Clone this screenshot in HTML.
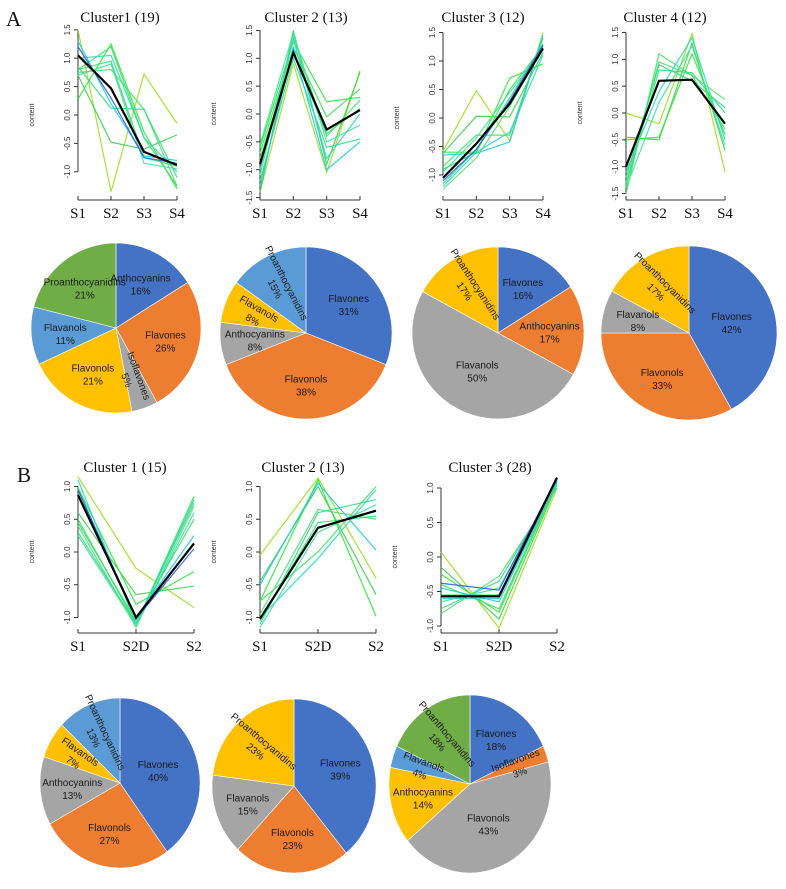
<!DOCTYPE html>
<html><head><meta charset="utf-8"><style>
html,body{margin:0;padding:0;background:#fff;}
svg{display:block;}
.ser{font-family:"Liberation Serif",serif;fill:#111;}
.sans{font-family:"Liberation Sans",sans-serif;}
</style></head><body>
<svg id="fig" width="786" height="889" viewBox="0 0 786 889" xmlns="http://www.w3.org/2000/svg">
<text class="ser" x="6" y="26" font-size="21">A</text>
<text class="ser" x="17" y="482" font-size="21">B</text>
</svg>
<script>
// ---------- line chart data ----------
const catsA = ["S1","S2","S3","S4"];
const catsB = ["S1","S2D","S2"];
const ticksA1 = [-1.0,-0.5,0.0,0.5,1.0,1.5];
const ticksA2 = [-1.5,-1.0,-0.5,0.0,0.5,1.0,1.5];
const ticksB = [-1.0,-0.5,0.0,0.5,1.0];
const tickLabelsA1 = ["-1.0","-0.5","0.0","0.5","1.0","1.5"];
const tickLabelsA2 = ["-1.5","-1.0","-0.5","0.0","0.5","1.0","1.5"];
const tickLabelsB = ["-1.0","-0.5","0.0","0.5","1.0"];

const meanA1 = [1.05,0.47,-0.65,-0.88];
const linesA1 = [[1.5,-1.35,0.72,-0.15],[0.7,-0.48,-0.6,-0.35],[0.28,1.25,-0.3,-1.3],[0.8,1.2,-0.4,-1.25],[0.75,0.8,0.1,-1.25],[0.85,0.12,0.1,-1.1],[0.7,0.9,-0.85,-0.95],[1.0,1.05,-0.4,-1.0],[0.8,0.95,-0.75,-0.9],[1.3,0.2,-0.72,-0.8],[1.2,0.3,-0.75,-0.85]];
const meanA2 = [-0.9,1.1,-0.28,0.07];
const linesA2 = [[-1.4,0.9,-1.05,0.78],[-1.4,1.5,-0.9,0.75],[-0.6,1.3,0.22,0.3],[-0.7,1.2,-0.05,0.45],[-1.1,1.4,-0.4,0.25],[-1.2,1.0,-0.6,-0.45],[-0.55,1.45,-0.5,-0.2],[-1.0,1.35,-0.8,0.0],[-0.8,1.1,-0.35,0.1],[-1.3,1.2,-1.0,-0.5]];
const meanA3 = [-1.05,-0.45,0.25,1.22];
const linesA3 = [[-0.58,0.48,-0.4,1.5],[-0.62,0.03,0.02,1.15],[-0.6,-0.6,0.7,0.95],[-0.85,-0.3,-0.3,1.4],[-1.25,-0.7,0.2,1.25],[-1.15,-0.55,0.35,1.3],[-0.95,-0.35,0.45,1.2],[-1.2,-0.6,-0.25,1.1],[-0.9,-0.6,0.5,1.25],[-0.65,-0.62,-0.42,1.45],[-1.1,-0.55,0.3,1.28]];
const meanA4 = [-1.0,0.6,0.62,-0.2];
const linesA4 = [[0.0,-0.2,1.48,-1.1],[-0.45,-0.5,1.3,-0.7],[-0.5,-0.45,1.1,-0.4],[-1.5,1.1,0.7,-0.3],[-1.3,0.95,0.7,0.25],[-1.2,0.9,0.6,0.1],[-1.4,0.2,1.25,-0.6],[-1.1,0.4,1.4,-0.5],[-1.35,0.8,0.75,0.0]];
const meanB1 = [0.87,-1.0,0.13];
const linesB1 = [[1.15,-0.25,-0.85],[0.6,-0.65,-0.52],[0.98,-0.8,-0.3],[0.5,-1.1,0.85],[0.4,-1.15,0.7],[0.3,-1.1,0.8],[0.25,-1.12,0.6],[1.1,-1.1,0.75],[0.45,-1.05,0.5],[0.95,-1.0,0.25],[0.95,-1.02,0.05]];
const meanB2 = [-1.02,0.37,0.63];
const linesB2 = [[-0.05,1.13,-0.4],[-0.45,1.0,-0.65],[-0.75,1.1,-0.98],[-0.75,0.0,1.0],[-0.95,0.65,0.5],[-1.1,0.6,0.8],[-1.15,0.3,0.72],[-1.0,-0.1,0.95],[-1.05,0.45,0.55],[-0.5,1.05,0.03]];
const meanB3 = [-0.57,-0.57,1.15];
const linesB3 = [[0.07,-1.03,1.0],[-0.15,-0.9,1.05],[-0.25,-0.8,1.08],[-0.4,-0.75,1.1],[-0.82,-0.28,1.0],[-0.75,-0.35,1.05],[-0.65,-0.45,1.1],[-0.6,-0.6,1.12],[-0.55,-0.55,1.14],[-0.45,-0.65,1.1],[-0.38,-0.48,1.15]];

// ---------- pie data ----------
const pieA1Labels = ["Anthocyanins","Flavones","Isoflavones","Flavonols","Flavanols","Proanthocyanidins"];
const pieA1Values = [16,26,5,21,11,21];
const pieA2Labels = ["Flavones","Flavonols","Anthocyanins","Flavanols","Proanthocyanidins"];
const pieA2Values = [31,38,8,8,15];
const pieA3Labels = ["Flavones","Anthocyanins","Flavanols","Proanthocyanidins"];
const pieA3Values = [16,17,50,17];
const pieA4Labels = ["Flavones","Flavonols","Flavanols","Proanthocyanidins"];
const pieA4Values = [42,33,8,17];
const pieB1Labels = ["Flavones","Flavonols","Anthocyanins","Flavanols","Proanthocyanidins"];
const pieB1Values = [40,27,13,7,13];
const pieB2Labels = ["Flavones","Flavonols","Flavanols","Proanthocyanidins"];
const pieB2Values = [39,23,15,23];
const pieB3Labels = ["Flavones","Isoflavones","Flavonols","Anthocyanins","Flavanols","Proanthocyanidins"];
const pieB3Values = [18,3,43,14,4,18];

const NS = "http://www.w3.org/2000/svg";
const svg = document.getElementById("fig");
function mk(tag, attrs, parent){
  const e = document.createElementNS(NS, tag);
  for (const k in attrs) e.setAttribute(k, attrs[k]);
  (parent||svg).appendChild(e);
  return e;
}
const lineColors = ["#9be024","#44cc55","#2ee83a","#3fe060","#55dd77","#33d98a","#40e0a0","#2bd8c0","#35e070","#22c8e8","#2a60e0"];

function lineChart(cfg, cats, ticks, tickLabels, lines, mean){
  const g = mk("g", {});
  
  
  const xs = i => cfg.x0 + i*(cfg.x1-cfg.x0)/(cats.length-1);
  const ys = v => cfg.y0 - v*cfg.unit;
  // title
  const t = mk("text", {x:cfg.tx, y:cfg.ty, "text-anchor":"middle", "font-size":15, class:"ser"}, g);
  t.textContent = cfg.title;
  
  
  // y axis
  const ax = cfg.x0 - 0;
  const ya = mk("line", {x1:ax, x2:ax, y1:ys(ticks[ticks.length-1]), y2:ys(ticks[0]), stroke:"#333", "stroke-width":1}, g);
  
  
  ticks.forEach((v,i)=>{
    mk("line", {x1:ax-4, x2:ax, y1:ys(v), y2:ys(v), stroke:"#333"}, g);
    const tl = mk("text", {x:0, y:0, transform:`translate(${ax-8},${ys(v)}) rotate(-90)`, "text-anchor":"middle", "font-size":8, class:"sans", fill:"#333"}, g);
    tl.textContent = tickLabels[i];
    
    
  });
  const yt = mk("text", {x:0, y:0, transform:`translate(${ax-44},${cfg.y0}) rotate(-90)`, "text-anchor":"middle", "font-size":7, class:"sans", fill:"#333"}, g);
  yt.textContent = "content";
  
  
  // x axis
  const xa = mk("line", {x1:xs(0), x2:xs(cats.length-1), y1:cfg.xAxisY, y2:cfg.xAxisY, stroke:"#333"}, g);
  
  
  cats.forEach((c,i)=>{
    mk("line", {x1:xs(i), x2:xs(i), y1:cfg.xAxisY, y2:cfg.xAxisY-4, stroke:"#333"}, g);
    const xl = mk("text", {x:xs(i), y:cfg.xAxisY+18, "text-anchor":"middle", "font-size":15, class:"ser"}, g);
    xl.textContent = c;
    
    
  });
  lines.forEach((s,k)=>{
    const p = mk("polyline", {points:s.map((v,i)=>xs(i)+","+ys(v)).join(" "), fill:"none", stroke:lineColors[k%lineColors.length], "stroke-width":1.2, opacity:0.9}, g);
    
    
  });
  const m = mk("polyline", {points:mean.map((v,i)=>xs(i)+","+ys(v)).join(" "), fill:"none", stroke:"#000", "stroke-width":2.2}, g);
  
  
}

lineChart({name:"line-chart-a1",title:"Cluster1 (19)",tx:120,ty:22,x0:78,x1:177,y0:115,unit:56.8,xAxisY:200}, catsA, ticksA1, tickLabelsA1, linesA1, meanA1);
lineChart({name:"line-chart-a2",title:"Cluster 2 (13)",tx:306,ty:22,x0:260,x1:360,y0:114,unit:55.7,xAxisY:200}, catsA, ticksA2, tickLabelsA2, linesA2, meanA2);
lineChart({name:"line-chart-a3",title:"Cluster 3 (12)",tx:483,ty:22,x0:443,x1:543,y0:118,unit:57,xAxisY:200}, catsA, ticksA1, tickLabelsA1, linesA3, meanA3);
lineChart({name:"line-chart-a4",title:"Cluster 4 (12)",tx:665,ty:22,x0:626,x1:725,y0:113,unit:53.7,xAxisY:200}, catsA, ticksA2, tickLabelsA2, linesA4, meanA4);
lineChart({name:"line-chart-b1",title:"Cluster 1 (15)",tx:125,ty:472,x0:78,x1:194,y0:552,unit:65.5,xAxisY:633}, catsB, ticksB, tickLabelsB, linesB1, meanB1);
lineChart({name:"line-chart-b2",title:"Cluster 2 (13)",tx:303,ty:472,x0:260,x1:376,y0:552,unit:65.5,xAxisY:633}, catsB, ticksB, tickLabelsB, linesB2, meanB2);
lineChart({name:"line-chart-b3",title:"Cluster 3 (28)",tx:490,ty:472,x0:441,x1:557,y0:557,unit:69,xAxisY:633}, catsB, ticksB, tickLabelsB, linesB3, meanB3);

// ---------- pies ----------
const catColor = {};
function pie(cfg, labels, values, colors, rots){
  const g = mk("g", {});
  
  
  const total = values.reduce((a,b)=>a+b,0);
  let acc = 0;
  const pt = (a, f) => [cfg.cx + cfg.rx*f*Math.sin(a), cfg.cy - cfg.ry*f*Math.cos(a)];
  values.forEach((v,i)=>{
    const a0 = acc/total*2*Math.PI; acc += v;
    const a1 = acc/total*2*Math.PI;
    const [x0,y0] = pt(a0,1), [x1,y1] = pt(a1,1);
    const large = (a1-a0) > Math.PI ? 1 : 0;
    const s = mk("path", {d:`M${cfg.cx},${cfg.cy} L${x0},${y0} A${cfg.rx},${cfg.ry} 0 ${large} 1 ${x1},${y1} Z`, fill:colors[i], stroke:"#fff", "stroke-width":0.6}, g);
    
    
  });
  acc = 0;
  values.forEach((v,i)=>{
    const a0 = acc/total*2*Math.PI; acc += v;
    const am = (a0 + acc/total*2*Math.PI)/2;
    const f = rots[i] !== null ? 0.62 : (v >= 40 ? 0.5 : 0.6);
    const [lx,ly] = pt(am, f);
    const tg = mk("g", {transform: rots[i] !== null ? `translate(${lx},${ly}) rotate(${rots[i]})` : `translate(${lx},${ly})`}, g);
    const t1 = mk("text", {x:0, y:-2, "text-anchor":"middle", "font-size":10, class:"sans", fill:"#1a1a1a"}, tg);
    t1.textContent = labels[i];
    
    
    const t2 = mk("text", {x:0, y:11, "text-anchor":"middle", "font-size":10, class:"sans", fill:"#1a1a1a"}, tg);
    t2.textContent = v + "%";
    
    
  });
}
const BL="#4472C4", OR="#ED7D31", GR="#A5A5A5", YE="#FFC000", LB="#5B9BD5", GN="#70AD47";
pie({name:"pie-a1",cx:116,cy:328,rx:85,ry:85}, pieA1Labels, pieA1Values, [BL,OR,GR,YE,LB,GN], [null,null,70,null,null,null]);
pie({name:"pie-a2",cx:306,cy:333,rx:86,ry:86}, pieA2Labels, pieA2Values, [BL,OR,GR,YE,LB], [null,null,null,30,63]);
pie({name:"pie-a3",cx:498,cy:333,rx:86,ry:86}, pieA3Labels, pieA3Values, [BL,OR,GR,YE], [null,null,null,57]);
pie({name:"pie-a4",cx:689,cy:333,rx:88,ry:87}, pieA4Labels, pieA4Values, [BL,OR,GR,YE], [null,null,null,45]);
pie({name:"pie-b1",cx:120,cy:783,rx:80,ry:85}, pieB1Labels, pieB1Values, [BL,OR,GR,YE,LB], [null,null,null,35,65]);
pie({name:"pie-b2",cx:294,cy:786,rx:82,ry:87}, pieB2Labels, pieB2Values, [BL,OR,GR,YE], [null,null,null,40]);
pie({name:"pie-b3",cx:470,cy:784,rx:81,ry:89}, pieB3Labels, pieB3Values, [BL,OR,GR,YE,LB,GN], [null,-20,null,null,20,50]);
</script>
</body></html>
